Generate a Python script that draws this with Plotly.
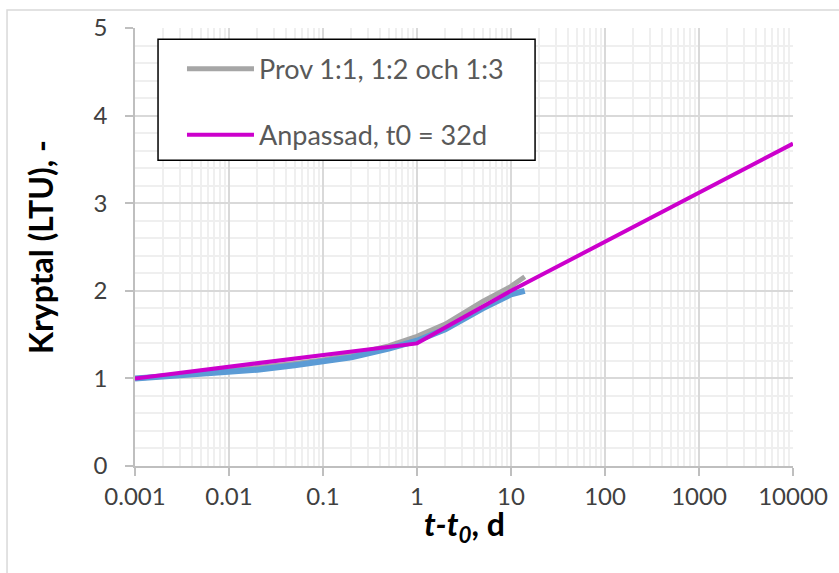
import plotly.graph_objects as go

# Time since t0 (days) for the measured samples
t_prov = [0.001, 0.002, 0.005, 0.01, 0.02, 0.05, 0.1, 0.2, 0.5, 1, 2, 5, 10, 14]
# Creep coefficient, samples 1:1, 1:2 and 1:3 (grey) and the additional sample (blue)
k_prov_gray = [1.00, 1.02, 1.06, 1.09, 1.12, 1.17, 1.21, 1.27, 1.37, 1.48, 1.62, 1.88, 2.05, 2.16]
k_prov_blue = [1.00, 1.02, 1.05, 1.07, 1.10, 1.15, 1.19, 1.24, 1.34, 1.43, 1.56, 1.80, 1.96, 2.00]

# Fitted model, t0 = 32 d
t_fit = [0.001, 0.01, 0.1, 1, 10, 100, 1000, 10000]
k_fit = [1.00, 1.13, 1.26, 1.40, 2.00, 2.56, 3.12, 3.68]

x_tickvals = [0.001, 0.01, 0.1, 1, 10, 100, 1000, 10000]
x_ticktext = ["0.001", "0.01", "0.1", "1", "10", "100", "1000", "10000"]
y_tickvals = [0, 1, 2, 3, 4, 5]

FONT = "Lato"
GRID_MAJOR = "#D9D9D9"
GRID_MINOR = "#EFEFEF"

fig = go.Figure()

fig.add_trace(go.Scatter(
    x=t_prov, y=k_prov_gray, mode="lines",
    name="Prov 1:1, 1:2 och 1:3",
    line=dict(color="#A6A6A6", width=5),
    legendgroup="a", hoverinfo="skip",
))
fig.add_trace(go.Scatter(
    x=t_prov, y=k_prov_blue, mode="lines",
    line=dict(color="#5B9BD5", width=6),
    showlegend=False, hoverinfo="skip",
))
fig.add_trace(go.Scatter(
    x=t_fit, y=k_fit, mode="lines",
    name="Anpassad, t0 = 32d",
    line=dict(color="#CC00CC", width=4),
    legendgroup="b",
))

fig.update_layout(
    width=839, height=573,
    margin=dict(l=135, r=46, t=28, b=107),
    paper_bgcolor="white", plot_bgcolor="white",
    font=dict(family=FONT, size=24, color="#404040"),
    legend=dict(
        x=0.0714, y=0.962, xanchor="left", yanchor="top",
        bgcolor="rgba(0,0,0,0)", borderwidth=0,
        font=dict(family=FONT, size=27, color="#595959"),
        tracegroupgap=28, traceorder="grouped",
        itemwidth=67,
    ),
    shapes=[
        # chart frame
        dict(type="rect", xref="paper", yref="paper",
             x0=-0.1945, x1=1.2, y0=-0.4, y1=1.041,
             line=dict(color="#D9D9D9", width=1.5), fillcolor="rgba(0,0,0,0)",
             layer="below"),
        # legend box
        dict(type="rect", xref="paper", yref="paper",
             x0=0.035, x1=0.608, y0=0.698, y1=0.9745,
             line=dict(color="#000000", width=1.5), fillcolor="white",
             layer="above"),
    ],
    annotations=[
        # x-axis title
        dict(text="<b><i>t-t<sub>0</sub></i>, d</b>", xref="paper", yref="paper",
             x=0.5, y=-0.136, xanchor="center", yanchor="middle", showarrow=False,
             font=dict(family=FONT, size=32, color="#000000")),
    ],
)

fig.update_xaxes(
    type="log", range=[-3, 4],
    tickmode="array", tickvals=x_tickvals, ticktext=x_ticktext,
    showgrid=True, gridcolor=GRID_MAJOR, gridwidth=1.5,
    minor=dict(showgrid=True, gridcolor=GRID_MINOR, gridwidth=1.5, dtick="D1", ticks=""),
    showline=True, linecolor="#BFBFBF", linewidth=1.5,
    ticks="outside", ticklen=8, tickcolor="#BFBFBF", tickwidth=1.5,
    tickfont=dict(family=FONT, size=24, color="#404040"),
    zeroline=False,
)
fig.update_yaxes(
    range=[0, 5], tickmode="array", tickvals=y_tickvals,
    showgrid=True, gridcolor=GRID_MAJOR, gridwidth=1.5,
    minor=dict(showgrid=True, gridcolor=GRID_MINOR, gridwidth=1.5, dtick=0.2, ticks=""),
    showline=True, linecolor="#BFBFBF", linewidth=1.5,
    ticks="outside", ticklen=8, tickcolor="#BFBFBF", tickwidth=1.5,
    tickfont=dict(family=FONT, size=24, color="#404040"),
    ticklabelstandoff=13,
    title=dict(text="<b>Kryptal (LTU), -</b>",
               font=dict(family=FONT, size=32, color="#000000"), standoff=30),
    zeroline=False,
)

fig.write_html("out.html")
